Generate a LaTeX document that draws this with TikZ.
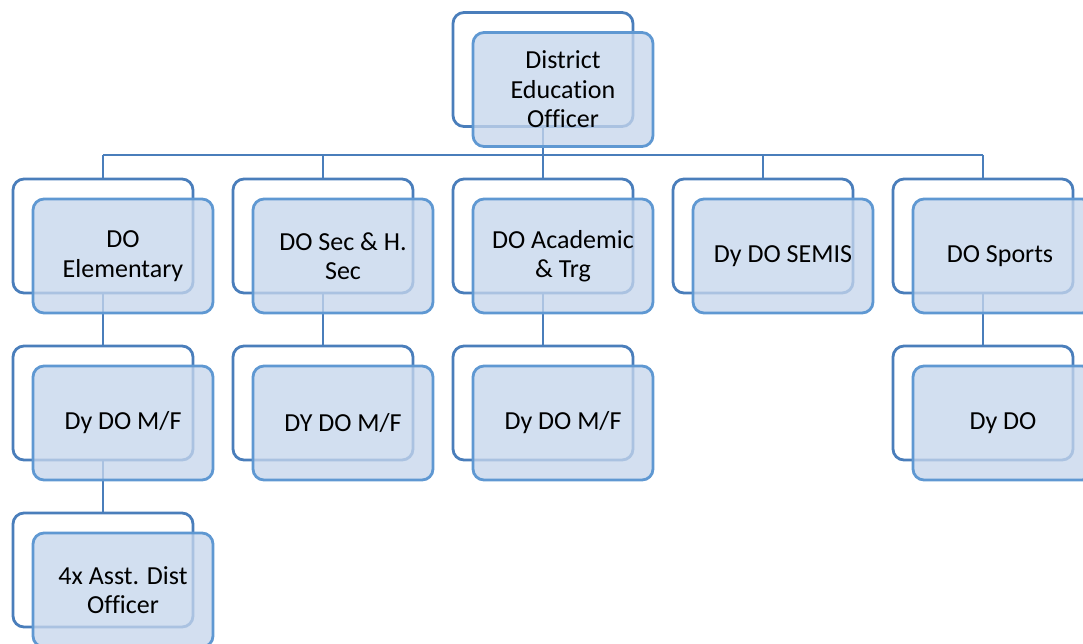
\documentclass[tikz,border=0pt]{standalone}
\usepackage{fontspec}
\setmainfont[RawFeature=-liga]{Carlito}
\definecolor{backline}{RGB}{74,126,187}
\definecolor{frontline}{RGB}{95,152,210}
\definecolor{frontfill}{RGB}{198,214,236}
\definecolor{linkcol}{RGB}{74,126,187}
\tikzset{
  backbox/.style={draw=backline, line width=2.8pt, fill=white, rounded corners=11pt,
    minimum width=180pt, minimum height=114pt, inner sep=0pt},
  frontbox/.style={draw=frontline, line width=2.8pt, fill=frontfill, fill opacity=0.78,
    text opacity=1, rounded corners=11pt, minimum width=180pt, minimum height=114pt,
    inner sep=0pt, align=center, text=black,
    font=\fontsize{26}{29.5}\selectfont},
  link/.style={draw=linkcol, line width=2.8pt}
}
\begin{document}
\begin{tikzpicture}[x=1pt,y=-1pt]
\useasboundingbox (0,0) rectangle (1083,643);
\begin{scope}
\clip (0,0) rectangle (1083,643);
% back boxes
\node[backbox] (b0) at (543,69.5) {};
\node[backbox] (b1) at (103,236) {};
\node[backbox] (b2) at (323,236) {};
\node[backbox] (b3) at (543,236) {};
\node[backbox] (b4) at (763,236) {};
\node[backbox] (b5) at (983,236) {};
\node[backbox] (b6) at (103,403) {};
\node[backbox] (b7) at (323,403) {};
\node[backbox] (b8) at (543,403) {};
\node[backbox] (b9) at (983,403) {};
\node[backbox] (b10) at (103,570) {};
% connectors
\coordinate (bus) at (543,155);
\draw[link] (b0.south) -- (bus);
\draw[link] (b1.north |- bus) -- (b5.north |- bus);
\foreach \n in {b1,b2,b3,b4,b5}{
  \draw[link] (\n.north) -- (\n.north |- bus);
}
\draw[link] (b1.south) -- (b6.north);
\draw[link] (b2.south) -- (b7.north);
\draw[link] (b3.south) -- (b8.north);
\draw[link] (b5.south) -- (b9.north);
\draw[link] (b6.south) -- (b10.north);
% front boxes
\node[frontbox] (f0) at (563,89.5) {District\\Education\\Officer};
\node[frontbox] (f1) at (123,256) {DO\\Elementary};
\node[frontbox] (f2) at (343,256) {DO Sec \& H.\\Sec};
\node[frontbox] (f3) at (563,256) {DO Academic\\\& Trg};
\node[frontbox] (f4) at (783,256) {Dy DO SEMIS};
\node[frontbox] (f5) at (1003,256) {\hspace*{-6pt}DO Sports};
\node[frontbox] (f6) at (123,423) {Dy DO M/F};
\node[frontbox] (f7) at (343,423) {DY DO M/F};
\node[frontbox] (f8) at (563,423) {Dy DO M/F};
\node[frontbox] (f9) at (1003,423) {Dy DO};
\node[frontbox] (f10) at (123,590) {4x Asst. Dist\\Officer};
\end{scope}
\end{tikzpicture}
\end{document}
